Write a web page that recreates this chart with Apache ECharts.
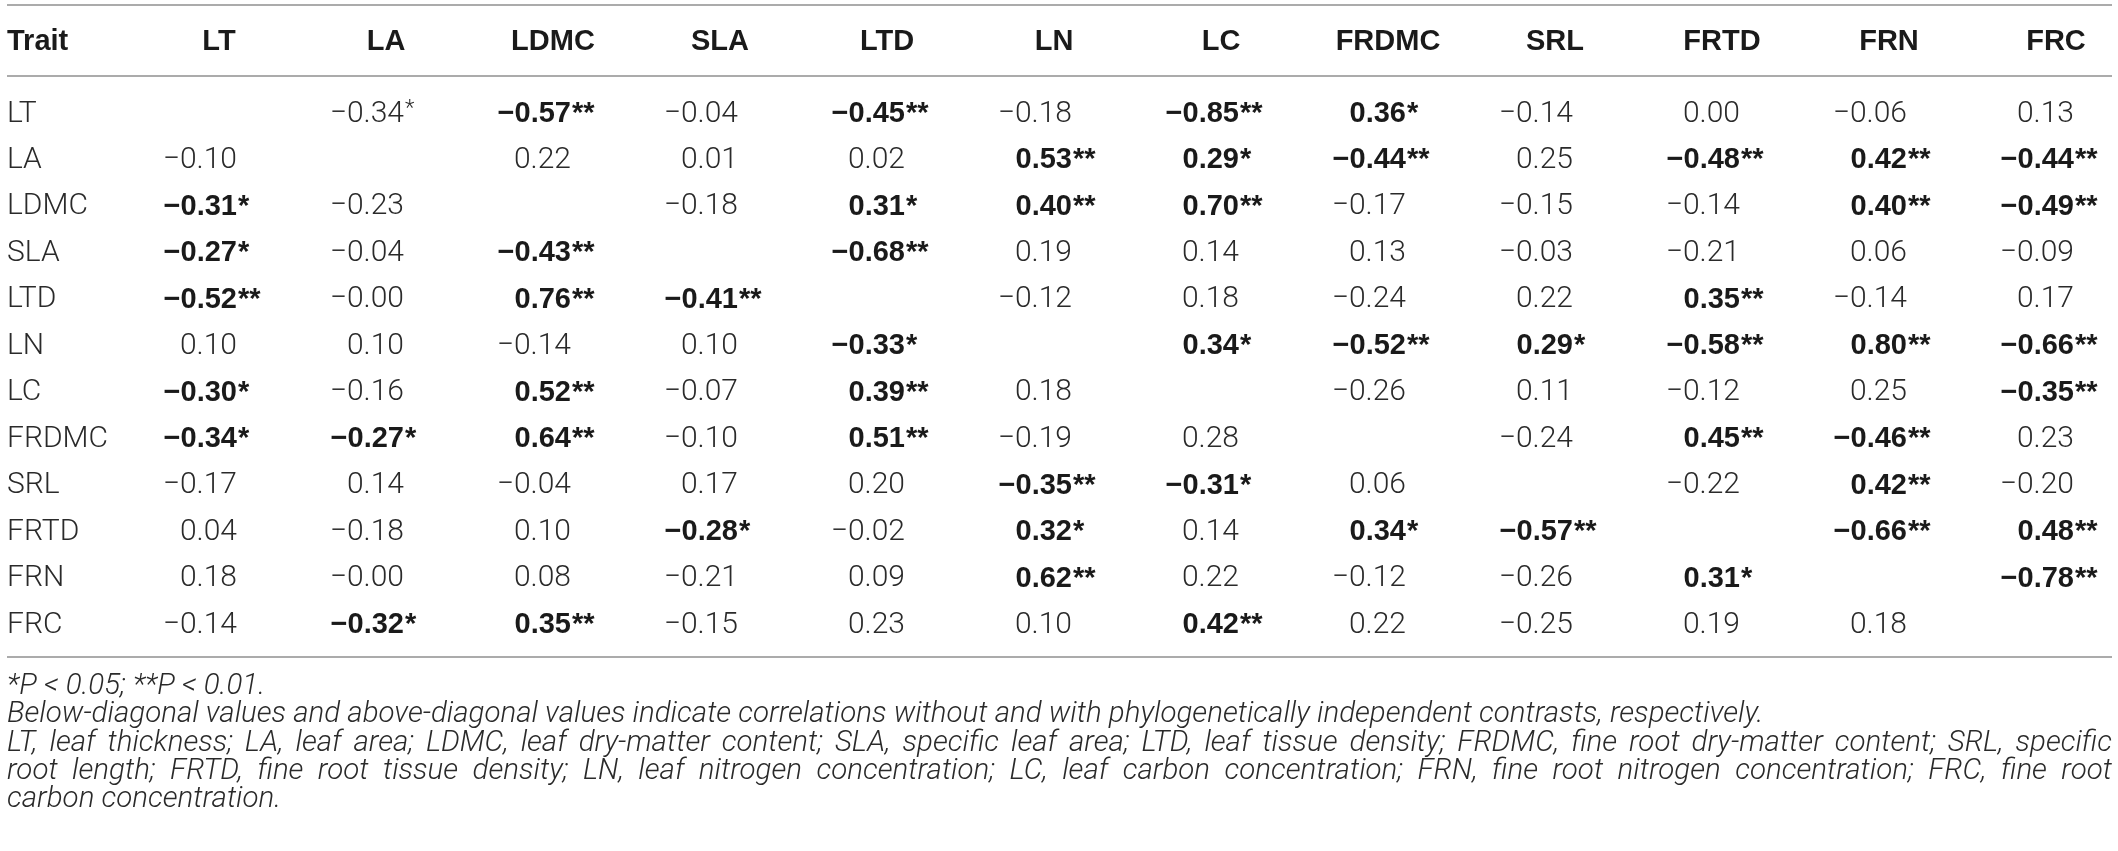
<!DOCTYPE html>
<html>
<head>
<meta charset="utf-8">
<script src="https://cdn.jsdelivr.net/npm/echarts@6/dist/echarts.min.js"></script>
<style>
  html, body { margin: 0; padding: 0; background: #fff; }
  #chart { width: 2118px; height: 851px; }
</style>
</head>
<body>
<div id="chart"></div>
<script>
// traits, used both as column headers and row labels
const traits = ['LT', 'LA', 'LDMC', 'SLA', 'LTD', 'LN', 'LC', 'FRDMC', 'SRL', 'FRTD', 'FRN', 'FRC'];

// correlation matrix, row = trait, col = trait (null on the diagonal)
const corr = [
  [null, -0.34, -0.57, -0.04, -0.45, -0.18, -0.85, 0.36, -0.14, 0.00, -0.06, 0.13],
  [-0.10, null, 0.22, 0.01, 0.02, 0.53, 0.29, -0.44, 0.25, -0.48, 0.42, -0.44],
  [-0.31, -0.23, null, -0.18, 0.31, 0.40, 0.70, -0.17, -0.15, -0.14, 0.40, -0.49],
  [-0.27, -0.04, -0.43, null, -0.68, 0.19, 0.14, 0.13, -0.03, -0.21, 0.06, -0.09],
  [-0.52, -0.00, 0.76, -0.41, null, -0.12, 0.18, -0.24, 0.22, 0.35, -0.14, 0.17],
  [0.10, 0.10, -0.14, 0.10, -0.33, null, 0.34, -0.52, 0.29, -0.58, 0.80, -0.66],
  [-0.30, -0.16, 0.52, -0.07, 0.39, 0.18, null, -0.26, 0.11, -0.12, 0.25, -0.35],
  [-0.34, -0.27, 0.64, -0.10, 0.51, -0.19, 0.28, null, -0.24, 0.45, -0.46, 0.23],
  [-0.17, 0.14, -0.04, 0.17, 0.20, -0.35, -0.31, 0.06, null, -0.22, 0.42, -0.20],
  [0.04, -0.18, 0.10, -0.28, -0.02, 0.32, 0.14, 0.34, -0.57, null, -0.66, 0.48],
  [0.18, -0.00, 0.08, -0.21, 0.09, 0.62, 0.22, -0.12, -0.26, 0.31, null, -0.78],
  [-0.14, -0.32, 0.35, -0.15, 0.23, 0.10, 0.42, 0.22, -0.25, 0.19, 0.18, null]
];

// number of asterisks per cell (1: P < 0.05, 2: P < 0.01)
const stars = [
  [0, 1, 2, 0, 2, 0, 2, 1, 0, 0, 0, 0],
  [0, 0, 0, 0, 0, 2, 1, 2, 0, 2, 2, 2],
  [1, 0, 0, 0, 1, 2, 2, 0, 0, 0, 2, 2],
  [1, 0, 2, 0, 2, 0, 0, 0, 0, 0, 0, 0],
  [2, 0, 2, 2, 0, 0, 0, 0, 0, 2, 0, 0],
  [0, 0, 0, 0, 1, 0, 1, 2, 1, 2, 2, 2],
  [1, 0, 2, 0, 2, 0, 0, 0, 0, 0, 0, 2],
  [1, 1, 2, 0, 2, 0, 0, 0, 0, 2, 2, 0],
  [0, 0, 0, 0, 0, 2, 1, 0, 0, 0, 2, 0],
  [0, 0, 0, 1, 0, 1, 0, 1, 2, 0, 2, 2],
  [0, 0, 0, 0, 0, 2, 0, 0, 0, 1, 0, 2],
  [0, 1, 2, 0, 0, 0, 2, 0, 0, 0, 0, 0]
];

// starred cells that are printed in the light face
const plainStarred = [[0, 1]];

const footnotes = [
  '*P < 0.05; **P < 0.01.',
  'Below-diagonal values and above-diagonal values indicate correlations without and with phylogenetically independent contrasts, respectively.',
  'LT, leaf thickness; LA, leaf area; LDMC, leaf dry-matter content; SLA, specific leaf area; LTD, leaf tissue density; FRDMC, fine root dry-matter content; SRL, specific',
  'root length; FRTD, fine root tissue density; LN, leaf nitrogen concentration; LC, leaf carbon concentration; FRN, fine root nitrogen concentration; FRC, fine root',
  'carbon concentration.'
];
const justified = [false, false, true, true, false];

const LIGHT = 'Roboto';
const BOLD = 'Liberation Sans';
const INK = '#2a2a2a';
const DARK = '#1a1a1a';

function fmt(v) {
  const neg = v < 0 || Object.is(v, -0);
  return (neg ? '\u2212' : '') + Math.abs(v).toFixed(2);
}

const cells = [];
corr.forEach((row, r) => {
  row.forEach((v, c) => {
    if (v === null) return;
    const n = stars[r][c];
    const plain = plainStarred.some(p => p[0] === r && p[1] === c);
    cells.push({ r, c, text: fmt(v), st: '*'.repeat(n), bold: n > 0 && !plain });
  });
});

const chart = echarts.init(document.getElementById('chart'));

// footnote text, lines 3 and 4 are set justified across the full width
const noteFont = 'italic 300 29.5px ' + LIGHT;
const ctx = document.createElement('canvas').getContext('2d');
ctx.font = noteFont;
const noteLeft = 7, noteRight = 2112;
const noteY = [687, 715, 743.5, 771.5, 800];
const notes = [];
footnotes.forEach((line, i) => {
  if (!justified[i]) {
    notes.push({ type: 'text', x: noteLeft, y: noteY[i],
      style: { text: line, font: noteFont, fill: INK, align: 'left', verticalAlign: 'middle' } });
    return;
  }
  const words = line.split(' ');
  const widths = words.map(w => ctx.measureText(w).width);
  const total = widths.reduce((a, b) => a + b, 0);
  const gap = (noteRight - noteLeft - total) / (words.length - 1);
  let x = noteLeft;
  words.forEach((w, k) => {
    notes.push({ type: 'text', x: x, y: noteY[i],
      style: { text: w, font: noteFont, fill: INK, align: 'left', verticalAlign: 'middle' } });
    x += widths[k] + gap;
  });
});

const rule = y => ({ type: 'line', shape: { x1: 7, y1: y, x2: 2112, y2: y },
  style: { stroke: '#ababab', lineWidth: 2 } });

const option = {
  animation: false,
  backgroundColor: '#fff',
  grid: { left: 219, right: 62, top: 114, bottom: 226 },
  xAxis: {
    type: 'category',
    data: traits,
    position: 'top',
    boundaryGap: false,
    axisLine: { show: false },
    axisTick: { show: false },
    splitLine: { show: false },
    axisLabel: {
      margin: 72,
      verticalAlign: 'middle',
      fontFamily: BOLD,
      fontWeight: 'bold',
      fontSize: 29,
      color: DARK
    }
  },
  yAxis: {
    type: 'category',
    data: traits,
    inverse: true,
    boundaryGap: false,
    axisLine: { show: false },
    axisTick: { show: false },
    splitLine: { show: false },
    axisLabel: {
      margin: 212,
      align: 'left',
      verticalAlign: 'middle',
      fontFamily: LIGHT,
      fontWeight: 300,
      fontSize: 30,
      color: INK
    }
  },
  series: [{
    type: 'custom',
    data: cells.map(d => [d.c, d.r]),
    renderItem: function (params, api) {
      const d = cells[params.dataIndex];
      const p = api.coord([api.value(0), api.value(1)]);
      const x = p[0] + 18;
      const face = d.bold
        ? { fontFamily: BOLD, fontWeight: 'bold', fontSize: 29, fill: DARK }
        : { fontFamily: LIGHT, fontWeight: 300, fontSize: 30, fill: INK };
      const children = [{
        type: 'text', x: x, y: p[1],
        style: Object.assign({ text: d.text, align: 'right', verticalAlign: 'middle' }, face)
      }];
      if (d.st) {
        children.push({
          type: 'text', x: x + 1, y: d.bold ? p[1] : p[1] - 5,
          style: Object.assign({}, face, { text: d.st, fontSize: d.bold ? 29 : 22, align: 'left', verticalAlign: 'middle' })
        });
      }
      return { type: 'group', children: children };
    }
  }],
  graphic: [
    rule(5), rule(76), rule(657),
    { type: 'text', x: 7, y: 42,
      style: { text: 'Trait', fontFamily: BOLD, fontWeight: 'bold', fontSize: 29, fill: DARK,
        align: 'left', verticalAlign: 'middle' } }
  ].concat(notes)
};

chart.setOption(option);
</script>
</body>
</html>
